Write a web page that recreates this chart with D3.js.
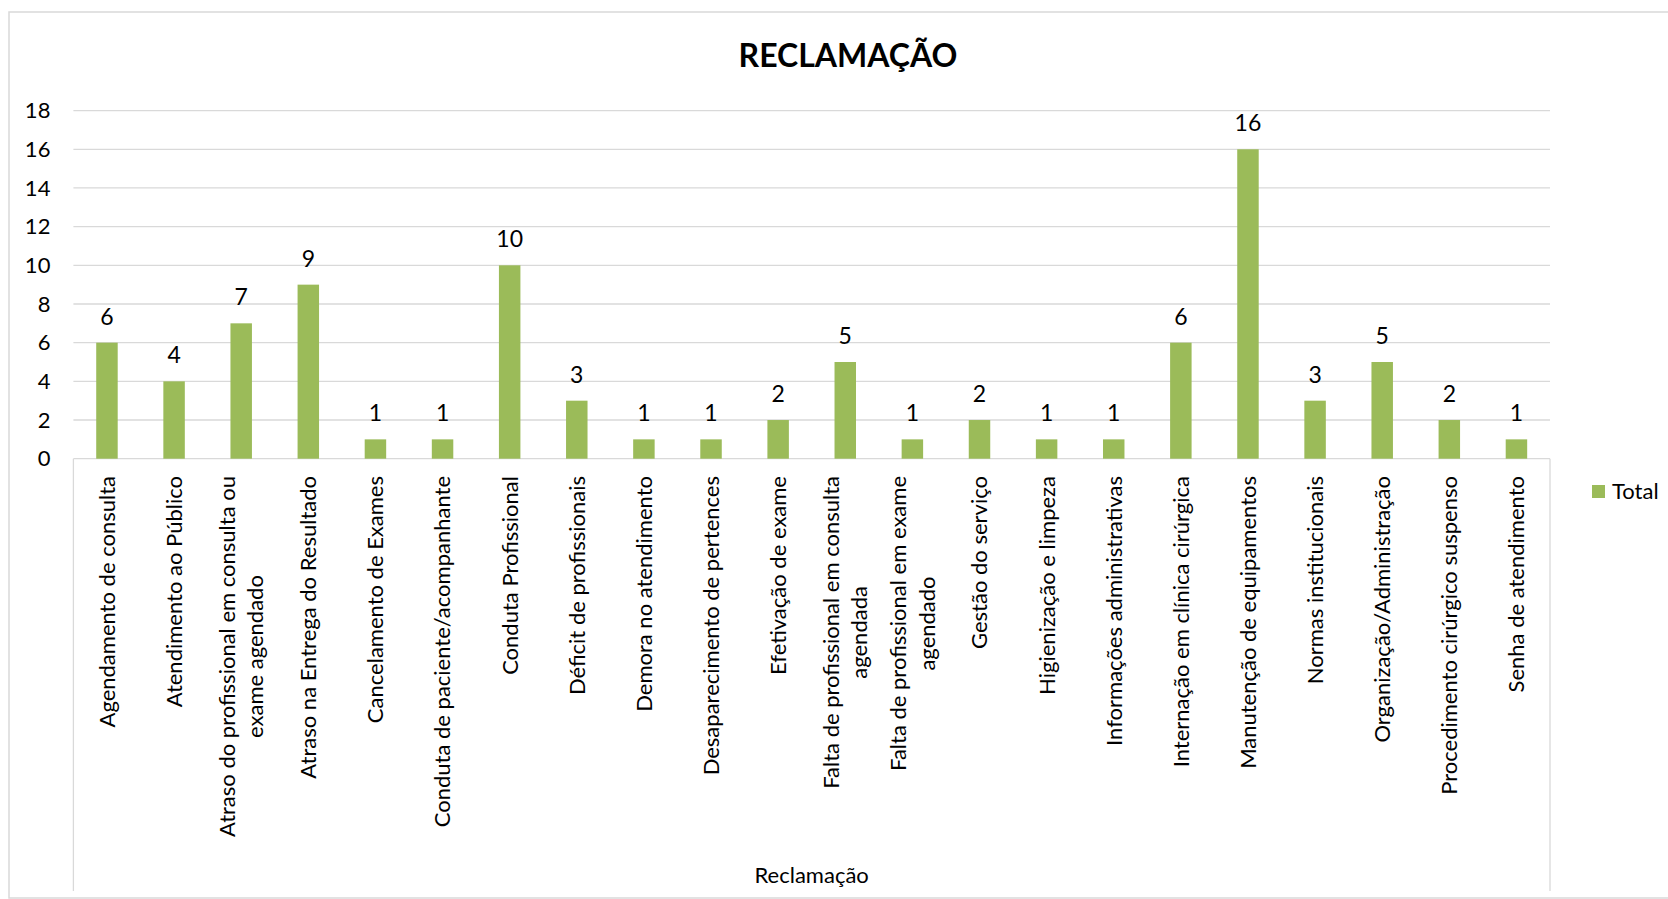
<!DOCTYPE html>
<meta charset="utf-8">
<style>
body { margin: 0; background: #fff; }
text { font-family: Lato, "Open Sans", sans-serif; fill: #000; }
.grid line { stroke: #d9d9d9; stroke-width: 1.3; }
.frame { fill: none; stroke: #d9d9d9; stroke-width: 1.5; }
</style>
<body>
<div id="chart"></div>
<script src="https://d3js.org/d3.v7.min.js"></script>
<script>

// data
var categories = [
  "Agendamento de consulta",
  "Atendimento ao Público",
  "Atraso do profissional em consulta ou\nexame agendado",
  "Atraso na Entrega do Resultado",
  "Cancelamento de Exames",
  "Conduta de paciente/acompanhante",
  "Conduta Profissional",
  "Déficit de profissionais",
  "Demora no atendimento",
  "Desaparecimento de pertences",
  "Efetivação de exame",
  "Falta de profissional em consulta\nagendada",
  "Falta de profissional em exame\nagendado",
  "Gestão do serviço",
  "Higienização e limpeza",
  "Informações administrativas",
  "Internação em clínica cirúrgica",
  "Manutenção de equipamentos",
  "Normas institucionais",
  "Organização/Administração",
  "Procedimento cirúrgico suspenso",
  "Senha de atendimento"
];
var totals = [6, 4, 7, 9, 1, 1, 10, 3, 1, 1, 2, 5, 1, 2, 1, 1, 6, 16, 3, 5, 2, 1];
var yTicks = [0, 2, 4, 6, 8, 10, 12, 14, 16, 18];
var seriesName = "Total";
var chartTitle = "RECLAMAÇÃO";
var axisTitle = "Reclamação";

var width = 1668,
    height = 899,
    margin = {top: 110.6, right: 118, bottom: 440.3, left: 73.4},
    barColor = "#9bbb59",
    fontSize = 22;

var svg = d3.select("#chart").append("svg")
    .attr("width", width)
    .attr("height", height);

// outer chart frame (right edge runs off the picture)
svg.append("rect")
    .attr("class", "frame")
    .attr("x", 9).attr("y", 12)
    .attr("width", 1700).attr("height", 886);

var x = d3.scaleBand()
    .domain(categories)
    .range([margin.left, width - margin.right])
    .paddingInner(0.68)
    .paddingOuter(0.34);

var y = d3.scaleLinear()
    .domain([0, 18])
    .range([height - margin.bottom, margin.top]);

// gridlines
svg.append("g")
    .attr("class", "grid")
    .selectAll("line")
    .data(yTicks)
    .join("line")
    .attr("x1", margin.left)
    .attr("x2", width - margin.right)
    .attr("y1", d => y(d))
    .attr("y2", d => y(d));

// y axis labels
var yAxis = d3.axisLeft(y).tickValues(yTicks).tickSize(0).tickPadding(23);
svg.append("g")
    .attr("transform", `translate(${margin.left},0)`)
    .call(yAxis)
    .call(g => g.select(".domain").remove())
    .selectAll("text")
    .style("font-family", "Lato, sans-serif")
    .attr("font-size", fontSize)
    .attr("fill", "#000");

// category axis box lines
var y0 = y(0);
svg.append("g").attr("class", "grid")
  .selectAll("line")
  .data([margin.left, width - margin.right])
  .join("line")
    .attr("x1", d => d).attr("x2", d => d)
    .attr("y1", y0).attr("y2", 891);

// bars
svg.append("g")
  .selectAll("rect")
  .data(categories)
  .join("rect")
    .attr("x", d => x(d))
    .attr("y", (d, i) => y(totals[i]))
    .attr("width", x.bandwidth())
    .attr("height", (d, i) => y0 - y(totals[i]))
    .attr("fill", barColor);

// data labels
svg.append("g")
  .selectAll("text")
  .data(categories)
  .join("text")
    .attr("x", d => x(d) + x.bandwidth() / 2)
    .attr("y", (d, i) => y(totals[i]) - 18)
    .attr("text-anchor", "middle")
    .attr("font-size", 23)
    .text((d, i) => totals[i]);

// category labels, rotated and wrapped like Excel
var lineH = fontSize * 1.3;
var labels = svg.append("g")
  .selectAll("g")
  .data(categories)
  .join("g")
    .attr("transform", d => `translate(${x(d) + x.bandwidth() / 2},476) rotate(-90)`);

labels.each(function(d) {
  var g = d3.select(this);
  var lines = d.split("\n");
  var t = g.append("text")
      .attr("font-size", fontSize)
      .attr("text-anchor", "middle");
  lines.forEach(function(l, i) {
    t.append("tspan")
      .attr("x", 0)
      .attr("y", (i - (lines.length - 1) / 2) * lineH)
      .attr("dy", "0.36em")
      .text(l);
  });
  var w = d3.max(t.selectAll("tspan").nodes(), n => n.getComputedTextLength());
  t.selectAll("tspan").attr("x", -w / 2);
});

// axis title
svg.append("text")
    .attr("x", (margin.left + width - margin.right) / 2)
    .attr("y", 883)
    .attr("text-anchor", "middle")
    .attr("font-size", fontSize)
    .text(axisTitle);

// chart title
svg.append("text")
    .attr("x", 848)
    .attr("y", 67)
    .attr("text-anchor", "middle")
    .attr("font-size", 32)
    .attr("font-weight", "bold")
    .text(chartTitle);

// legend
var legend = svg.append("g").attr("transform", "translate(1592,485)");
legend.append("rect")
    .attr("width", 13).attr("height", 13)
    .attr("fill", barColor);
legend.append("text")
    .attr("x", 20).attr("y", 6.5)
    .attr("dy", "0.36em")
    .attr("font-size", fontSize)
    .text(seriesName);

</script>
</body>
